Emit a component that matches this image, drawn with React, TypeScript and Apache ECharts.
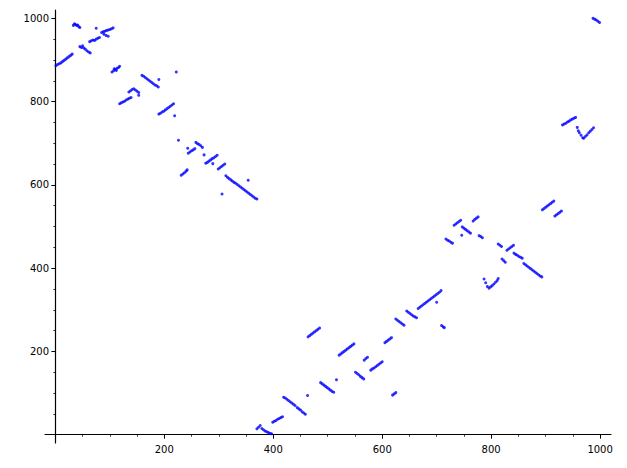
import React, { useEffect, useRef } from "react";
import * as echarts from "echarts";

const xMajorTicks = [200, 400, 600, 800, 1000];
const yMajorTicks = [200, 400, 600, 800, 1000];
const minorTicks = [0, 50, 100, 150, 200, 250, 300, 350, 400, 450, 500, 550, 600, 650, 700, 750, 800, 850, 900, 950, 1000];

const topLeftPoints = [
  [1, 886], [4, 889], [7, 891], [10, 893], [13, 896], [16, 899], [19, 902], [22, 905], [25, 908], [28, 911], [31, 914],
  [33, 983], [35, 987], [37, 985], [39, 983], [41, 984], [43, 980], [45, 978],
  [45, 932], [48, 930], [50, 934], [52, 929], [55, 926], [58, 922], [61, 919], [64, 917],
  [63, 944], [66, 946], [69, 948], [72, 947], [75, 950], [78, 952], [81, 954],
  [75, 976],
  [85, 966], [88, 968], [91, 969], [94, 971], [97, 972], [100, 973], [103, 975], [106, 977],
  [89, 962], [93, 959], [97, 957],
  [104, 871], [107, 874], [110, 877], [113, 880], [116, 882], [118, 885], [108, 879], [112, 875],
  [118, 795], [121, 797], [124, 799], [127, 801], [130, 804], [133, 806], [136, 808], [139, 810],
  [135, 823], [138, 826], [141, 829], [144, 831], [147, 828], [150, 825], [153, 822],
  [153, 815],
  [159, 863], [162, 861], [165, 858], [168, 855], [171, 852], [174, 849], [177, 846], [180, 843], [183, 840], [186, 838], [189, 835],
  [190, 853], [222, 871],
  [190, 770], [193, 772], [196, 775], [199, 777], [202, 780], [205, 783], [208, 786], [211, 789], [214, 792], [217, 795],
  [219, 766],
];

const middlePoints = [
  [226, 707],
  [231, 623], [234, 626], [237, 629], [240, 633], [242, 636],
  [244, 676], [247, 679], [250, 682], [253, 684], [256, 687],
  [258, 702], [261, 699], [264, 697], [267, 694], [270, 690],
  [243, 688], [273, 672],
  [276, 652], [279, 654], [282, 657], [285, 660], [288, 663], [291, 665], [294, 668], [297, 671],
  [289, 651],
  [299, 638], [302, 641], [305, 644], [308, 647], [311, 650],
  [313, 622], [316, 618], [319, 615], [322, 612], [325, 609], [328, 606], [331, 604], [334, 601], [337, 598], [340, 595],
  [343, 592], [346, 589], [349, 586], [352, 583], [355, 580], [358, 577], [361, 574], [364, 571], [367, 568], [370, 566],
  [306, 578], [354, 611],
];

const bottomPoints = [
  [370, 14], [373, 18], [376, 22], [379, 15], [382, 12], [385, 9], [388, 7], [391, 5], [394, 3], [397, 2],
  [399, 30], [402, 32], [405, 34], [408, 37], [411, 39], [414, 41], [417, 43],
  [419, 90], [422, 88], [425, 85], [428, 82], [431, 79], [434, 76], [437, 73], [440, 70],
  [444, 65], [447, 62], [450, 59], [453, 55], [456, 52], [459, 49],
  [463, 94],
  [464, 235], [467, 238], [470, 241], [473, 244], [476, 247], [479, 250], [482, 253], [485, 256],
  [487, 125], [490, 122], [493, 119], [496, 116], [499, 113], [502, 110], [505, 107], [508, 104], [511, 102],
  [516, 132],
  [521, 191], [524, 194], [527, 197], [530, 200], [533, 203], [536, 206], [539, 209], [542, 212], [545, 215], [548, 218],
  [551, 150], [554, 147], [557, 144], [560, 140], [563, 137], [566, 134],
  [567, 179], [570, 183], [573, 186],
  [579, 155], [582, 158], [585, 160], [588, 163], [591, 166], [594, 169], [597, 172], [600, 175],
  [605, 221], [608, 224], [611, 227], [614, 230], [617, 233],
  [619, 95], [622, 98], [625, 101],
  [625, 278], [628, 275], [631, 272], [634, 269], [637, 266], [640, 263],
  [645, 297], [648, 294], [651, 291], [654, 288], [657, 285], [660, 283], [663, 281],
  [666, 303], [669, 306], [672, 309], [675, 312], [678, 315], [681, 318], [684, 321], [687, 324], [690, 327], [693, 330],
  [696, 333], [699, 336], [702, 339], [705, 342], [708, 346],
  [700, 318],
  [709, 262], [712, 259], [714, 257],
];

const rightPoints = [
  [717, 470], [720, 467], [723, 465], [726, 462], [729, 460],
  [732, 503], [735, 506], [738, 509], [741, 512], [744, 515],
  [747, 499], [750, 496], [753, 493], [756, 490], [759, 487], [762, 484],
  [746, 479],
  [767, 513], [770, 517], [773, 520], [776, 523],
  [778, 478], [781, 476], [784, 473],
  [787, 374], [790, 365], [793, 356], [796, 352], [799, 355], [802, 358], [805, 362], [808, 366], [811, 370], [813, 375],
  [813, 458], [816, 455], [819, 452],
  [829, 443], [832, 446], [835, 449], [838, 452], [841, 455],
  [842, 436], [845, 433], [848, 431], [851, 428], [854, 426], [857, 424],
  [860, 411], [863, 408], [866, 405], [869, 402], [872, 399], [875, 396], [878, 393], [881, 390], [884, 387], [887, 384], [890, 381], [893, 379],
  [820, 422], [823, 418], [826, 414],
  [894, 540], [897, 543], [900, 546], [903, 549], [906, 552], [909, 555], [912, 558], [915, 561],
  [917, 525], [920, 528], [923, 531], [926, 534], [929, 537],
  [931, 744], [934, 746], [937, 748], [940, 751], [943, 753], [946, 756], [949, 758], [952, 760], [955, 762],
  [958, 738], [960, 730], [962, 725], [965, 719], [968, 713],
  [970, 712], [973, 716], [976, 720], [979, 725], [982, 729], [985, 733], [988, 737],
  [987, 1000], [990, 998], [993, 996], [996, 993], [999, 990],
];

const X_MIN = -19;
const X_MAX = 1020;
const Y_MIN = -20;
const Y_MAX = 1020;

export default function App() {
  const ref = useRef<HTMLDivElement>(null);
  useEffect(() => {
    if (!ref.current) return;
    const chart = echarts.init(ref.current, undefined, { renderer: "svg" });
    const font = "DejaVu Sans";
    const majorAxis = (min: number, max: number, ticks: number[], margin: number) => ({
      type: "value",
      min,
      max,
      axisLine: { show: true, onZero: true, lineStyle: { color: "#000", width: 1.2 } },
      axisTick: { show: true, customValues: ticks, length: 4, lineStyle: { color: "#000", width: 1 } },
      axisLabel: {
        show: true,
        customValues: ticks,
        color: "#000",
        fontSize: 10,
        fontFamily: font,
        margin,
        formatter: (v: number) => String(v),
      },
      splitLine: { show: false },
    });
    const minorAxis = (min: number, max: number) => ({
      type: "value",
      min,
      max,
      axisLine: { show: true, onZero: true, lineStyle: { color: "#000", opacity: 0 } },
      axisTick: { show: true, customValues: minorTicks, length: 2, lineStyle: { color: "#000", width: 0.8 } },
      axisLabel: { show: false },
      splitLine: { show: false },
    });
    const allPoints = [...topLeftPoints, ...middlePoints, ...bottomPoints, ...rightPoints];
    chart.setOption({
      animation: false,
      backgroundColor: "#fff",
      grid: { left: 45, right: 16, top: 10, bottom: 25, containLabel: false },
      xAxis: [
        { ...majorAxis(X_MIN, X_MAX, xMajorTicks, 1), position: "bottom" },
        { ...minorAxis(X_MIN, X_MAX), position: "bottom" },
      ],
      yAxis: [
        { ...majorAxis(Y_MIN, Y_MAX, yMajorTicks, -4), position: "left" },
        { ...minorAxis(Y_MIN, Y_MAX), position: "left" },
      ],
      series: [
        {
          type: "scatter",
          xAxisIndex: 0,
          yAxisIndex: 0,
          data: allPoints,
          symbol: "circle",
          symbolSize: 3,
          itemStyle: { color: "#0000ff" },
        },
      ],
    });
    return () => chart.dispose();
  }, []);
  return <div ref={ref} style={{ position: "fixed", left: 0, top: 0, width: 627, height: 468 }} />;
}
